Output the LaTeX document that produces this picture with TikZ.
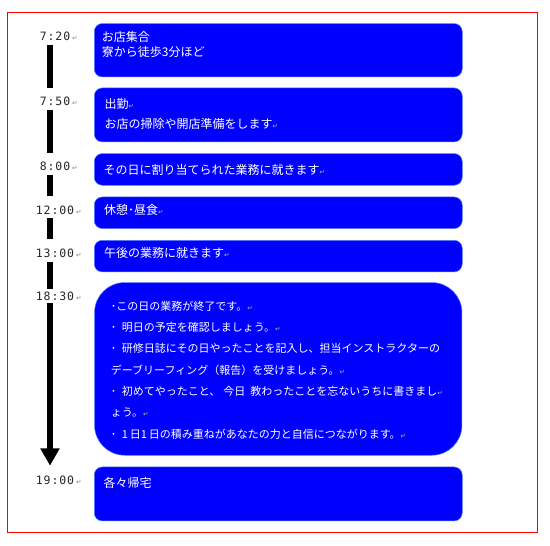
\documentclass[tikz,border=0pt]{standalone}
\usepackage{fontspec}
\usetikzlibrary{arrows.meta}
\newfontfamily\jpfont{Noto Sans CJK JP}
\newfontfamily\timefont[LetterSpace=8]{DejaVu Sans Mono}
\newfontfamily\symfont{DejaVu Sans}
\definecolor{boxblue}{RGB}{0,0,255}
\definecolor{boxedge}{RGB}{90,130,255}
\definecolor{retgray}{RGB}{128,128,128}
\definecolor{retolive}{RGB}{190,190,120}
\definecolor{framered}{RGB}{255,0,0}
\newcommand\retl{\rlap{\,{\symfont\fontsize{6.5}{6.5}\selectfont\color{retgray}↵}}}
\newcommand\retb{{\symfont\fontsize{6.5}{6.5}\selectfont\color{retolive}↵}}
\newcommand\bul{\makebox[11pt][l]{･}}
\pgfdeclarelayer{bg}
\pgfsetlayers{bg,main}
\begin{document}
\begin{tikzpicture}[x=1pt,y=-1pt,
  bbox/.style={fill=boxblue, draw=boxedge, line width=0.5pt, rounded corners=8pt,
    minimum width=368pt, inner sep=0pt, anchor=north west},
  btext/.style={anchor=base west, inner sep=0pt, text=white, font=\jpfont},
  tlabel/.style={anchor=base, fill=white, inner xsep=1pt, inner ysep=3.2pt,
    text height=8.5pt, text depth=0pt, text=black!85, font=\timefont\fontsize{11.5}{11.5}\selectfont},
  barline/.style={line width=6.5pt, draw=black},
]
\useasboundingbox (0,0) rectangle (550,546);
\draw[framered, line width=0.9pt] (7,12.7) rectangle (537,532);

% boxes
\node[bbox, minimum height=53.4pt] (b1) at (94,23.3) {};
\node[bbox, minimum height=54pt] (b2) at (94,87.7) {};
\node[bbox, minimum height=31.7pt] (b3) at (94,153.3) {};
\node[bbox, minimum height=31.6pt] (b4) at (94,196.7) {};
\node[bbox, minimum height=31.7pt] (b5) at (94,240) {};
\node[bbox, minimum height=172.7pt, minimum width=367.4pt, rounded corners=30pt] (b6) at (94.3,282.3) {};
\node[bbox, minimum height=54pt] (b7) at (94,466.7) {};

% box texts
\node[btext] (x1) at (101.7,41.3) {\parbox[t]{350pt}{\fontsize{12}{15}\selectfont\raggedright
  お店集合\\寮から徒歩3分ほど}};
\node[btext] (x2) at (104.5,108.6) {\parbox[t]{350pt}{\fontsize{12}{20.3}\selectfont\raggedright
  出勤\retb\\お店の掃除や開店準備をします\retb}};
\node[btext] (x3) at (103.5,174.6) {\fontsize{12}{15}\selectfont その日に割り当てられた業務に就きます\retb};
\node[btext] (x4) at (104,214.6) {\fontsize{12}{15}\selectfont 休憩･昼食\retb};
\node[btext] (x5) at (104,257.9) {\fontsize{12}{15}\selectfont 午後の業務に就きます\retb};
\node[btext] (x6) at (110.7,310.2) {\parbox[t]{345pt}{\fontsize{11}{21.3}\selectfont\raggedright
  ･この日の業務が終了です。\retb\\
  \bul 明日の予定を確認しましょう。\retb\\
  \bul 研修日誌にその日やったことを記入し、担当インストラクターの\\
  デーブリーフィング（報告）を受けましょう。\retb\\
  \bul 初めてやったこと、\hspace{3pt}今日\hspace{5pt}教わったことを忘ないうちに書きまし\retb\\
  ょう。\retb\\
  \bul 1\,日1\,日の積み重ねがあなたの力と自信につながります。\retb}};
\node[btext] (x7) at (103.3,487.3) {\fontsize{12}{15}\selectfont 各々帰宅};

% time labels
\coordinate (bx) at (50,0);
\node[tlabel] (t720) at (55,40.9) {7:20\retl};
\node[tlabel] (t750) at (55,105.9) {7:50\retl};
\node[tlabel] (t800) at (55,170.9) {8:00\retl};
\node[tlabel] (t1200) at (55,214.2) {12:00\retl};
\node[tlabel] (t1300) at (55,257.5) {13:00\retl};
\node[tlabel] (t1830) at (55,300.2) {18:30\retl};
\node[tlabel] (t1900) at (55,484.2) {19:00\retl};

\begin{pgfonlayer}{bg}
\draw[barline, shorten <=3.8pt, shorten >=18.2pt] (t720.base -| bx) -- (t750.base -| bx);
\draw[barline, shorten <=3.8pt, shorten >=18.2pt] (t750.base -| bx) -- (t800.base -| bx);
\draw[barline, shorten <=3.8pt, shorten >=18.2pt] (t800.base -| bx) -- (t1200.base -| bx);
\draw[barline, shorten <=3.8pt, shorten >=18.2pt] (t1200.base -| bx) -- (t1300.base -| bx);
\draw[barline, -{Triangle[width=18.3pt,length=17.4pt]}, shorten <=4.2pt, shorten >=18.5pt]
  (t1300.base -| bx) -- (t1900.base -| bx);
\end{pgfonlayer}
\end{tikzpicture}
\end{document}
